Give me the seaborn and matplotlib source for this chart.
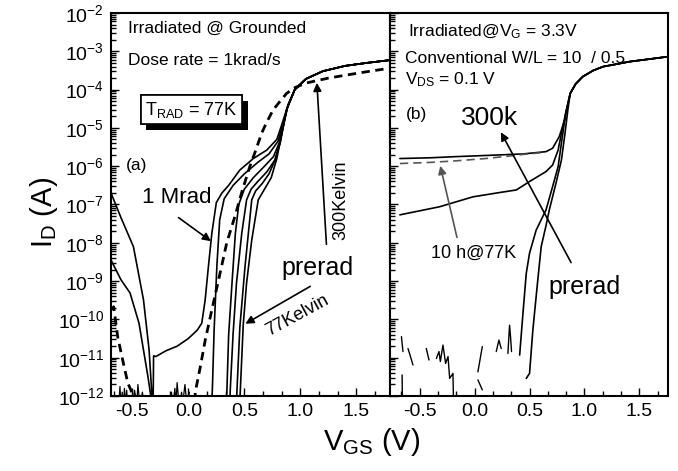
import numpy as np
import pandas as pd
import matplotlib
matplotlib.use("Agg")
import matplotlib.pyplot as plt
import matplotlib.patheffects as pe
from matplotlib.ticker import LogLocator, MultipleLocator, NullFormatter
import seaborn as sns

sns.set_theme(style="ticks")
plt.rcParams['font.family'] = ['Liberation Sans', 'DejaVu Sans']
plt.rcParams['mathtext.fontset'] = 'custom'
plt.rcParams['mathtext.rm'] = 'Liberation Sans'
plt.rcParams['mathtext.it'] = 'Liberation Sans:italic'
for key in ['text.color', 'axes.labelcolor', 'xtick.color', 'ytick.color', 'axes.edgecolor']:
    plt.rcParams[key] = 'black'

nan = np.nan

# ---- panel (a): irradiated grounded, measured at 77K (log10 of I_D in A) ----
a_top_v = [0.95, 1.05, 1.2, 1.4, 1.6, 1.8]
a_top_log = [-4.0, -3.72, -3.52, -3.38, -3.3, -3.23]

# 1 Mrad curve incl. its off-state leakage
a_1mrad_v = [-0.69, -0.6, -0.49, -0.40, -0.35, -0.32, -0.315, -0.31, -0.29, -0.2, -0.1, 0.0, 0.08, 0.12,
             0.15, 0.18, 0.21, 0.25, 0.30, 0.36, 0.46, 0.58, 0.70, 0.79, 0.83, 0.88] + a_top_v
a_1mrad_log = [-6.70, -7.35, -8.10, -9.49, -10.8, -12.2, -12.5, -10.95, -10.97, -10.82, -10.7, -10.5, -10.28, -10.1,
               -9.5, -8.6, -7.75, -6.95, -6.7, -6.5, -6.1, -5.8, -5.58, -5.3, -4.95, -4.5] + a_top_log

a_leak_v = [-0.69, -0.60, -0.52, -0.44, -0.40, -0.36, -0.33, -0.325]
a_leak_log = [-8.45, -8.97, -9.31, -10.1, -10.8, -11.5, -12.1, -12.5]

a_d2_v = [0.205, 0.215, 0.23, 0.255, 0.28, 0.32, 0.40, 0.50, 0.62, 0.72, 0.80, 0.84, 0.88] + a_top_v
a_d2_log = [-12.5, -11.8, -10.3, -8.6, -7.4, -6.85, -6.5, -6.2, -5.9, -5.68, -5.35, -4.95, -4.5] + a_top_log

a_d3_v = [0.335, 0.345, 0.36, 0.39, 0.42, 0.45, 0.50, 0.58, 0.68, 0.76, 0.81, 0.85, 0.88] + a_top_v
a_d3_log = [-12.5, -11.8, -10.4, -9.05, -7.75, -7.0, -6.6, -6.3, -6.0, -5.75, -5.4, -4.9, -4.5] + a_top_log

a_d4_v = [0.365, 0.375, 0.40, 0.43, 0.477, 0.52, 0.56, 0.62, 0.70, 0.77, 0.82, 0.855, 0.88] + a_top_v
a_d4_log = [-12.5, -11.8, -10.36, -9.05, -7.75, -6.88, -6.6, -6.4, -6.15, -5.85, -5.4, -4.85, -4.5] + a_top_log

a_d5_v = [0.425, 0.435, 0.46, 0.506, 0.566, 0.60, 0.66, 0.72, 0.78, 0.82, 0.86, 0.89] + a_top_v
a_d5_log = [-12.5, -11.8, -10.2, -8.62, -6.88, -6.65, -6.45, -6.2, -5.8, -5.35, -4.8, -4.4] + a_top_log

a_pre77_v = [0.455, 0.465, 0.49, 0.52, 0.566, 0.624, 0.68, 0.74, 0.79, 0.83, 0.86, 0.89] + a_top_v
a_pre77_log = [-12.5, -11.8, -10.15, -9.05, -7.93, -6.88, -6.6, -6.3, -5.8, -5.2, -4.75, -4.4] + a_top_log

# preirradiation at 300K (dashed)
a_pre300_v = [-0.69, -0.666, -0.63, -0.58, -0.54, -0.49, -0.48, nan,
              0.055, 0.062, 0.107, 0.151, 0.21, 0.27, 0.343, 0.417, 0.48, 0.55, 0.60, 0.654, 0.70,
              0.757, 0.82, 0.877, 0.95, 1.05, 1.11, 1.25, 1.41, 1.6, 1.8]
a_pre300_log = [-9.75, -9.67, -10.46, -11.14, -11.66, -12.0, -12.5, nan,
                -12.5, -11.9, -11.24, -10.54, -9.75, -8.97, -8.0, -7.3, -6.65, -6.0, -5.6, -5.14, -4.85,
                -4.53, -4.3, -4.1, -3.95, -3.83, -3.79, -3.7, -3.62, -3.53, -3.44]

a_floor_v = [-0.62, -0.61, -0.60, -0.59, -0.58, -0.57, -0.56, -0.55, -0.54, -0.52, -0.50, -0.48, -0.46,
             -0.45, -0.43, -0.41, -0.39, -0.37, nan, -0.16, -0.15, -0.14, -0.12, -0.11, -0.10, -0.08,
             -0.06, -0.05, -0.03, -0.01, 0.01]
a_floor_log = [-12.2, -11.75, -12.3, -11.9, -12.3, -11.8, -12.2, -11.85, -12.3, -12.0, -12.3, -11.85, -12.2,
               -11.7, -12.3, -11.9, -12.3, -12.1, nan, -12.3, -11.9, -12.3, -11.8, -12.2, -11.65, -12.3,
               -11.9, -12.2, -11.7, -12.3, -11.9]

# ---- panel (b): irradiated at V_G = 3.3V ----
b_top_v = [0.87, 0.92, 0.985, 1.08, 1.17, 1.3, 1.41, 1.6, 1.76]
b_top_log = [-4.1, -3.85, -3.66, -3.5, -3.40, -3.33, -3.27, -3.2, -3.14]

b_300k_v = [-0.68, -0.4, -0.17, 0.1, 0.44, 0.65, 0.71, 0.77, 0.82] + b_top_v
b_300k_log = [-5.80, -5.78, -5.75, -5.72, -5.68, -5.62, -5.53, -5.23, -4.79] + b_top_log

b_10h_v = [-0.68, -0.4, -0.17, 0.1, 0.3, 0.45, 0.6]
b_10h_log = [-5.93, -5.9, -5.86, -5.8, -5.74, -5.69, -5.65]

b_low_v = [-0.68, -0.32, -0.015, 0.2, 0.38, 0.5, 0.65, 0.71, 0.76, 0.79, 0.83] + b_top_v
b_low_log = [-7.27, -7.06, -6.80, -6.70, -6.62, -6.40, -6.14, -5.97, -5.58, -5.14, -4.6] + b_top_log

b_pre1_v = [0.41, 0.44, 0.47, 0.50, 0.56, 0.65, 0.71, 0.76, 0.79, 0.83] + b_top_v
b_pre1_log = [-10.93, -9.84, -8.80, -8.27, -7.67, -7.14, -6.53, -6.01, -5.4, -4.6] + b_top_log

b_pre2_v = [0.47, 0.50, 0.53, 0.575, 0.606, 0.65, 0.68, 0.74, 0.79, 0.82, 0.85] + b_top_v
b_pre2_log = [-11.54, -11.41, -10.28, -8.97, -8.10, -7.55, -7.14, -6.45, -5.84, -5.2, -4.5] + b_top_log

b_noise_v = [-0.666, -0.652, nan, -0.606, -0.561, nan, -0.44, -0.415, nan,
             -0.348, -0.324, -0.312, -0.288, -0.264, -0.242, -0.227, -0.197, -0.19, nan,
             0.03, 0.07, nan, 0.03, 0.07, nan, 0.197, 0.221, 0.242, nan, 0.303, 0.318, 0.327, 0.336, nan,
             -0.66, -0.655]
b_noise_log = [-10.45, -10.84, nan, -10.76, -11.19, nan, -10.76, -11.06, nan,
               -11.02, -10.84, -11.10, -10.67, -11.15, -10.97, -11.54, -11.41, -12.5, nan,
               -11.37, -10.71, nan, -11.58, -11.84, nan, -10.84, -10.54, -10.76, nan, -10.89, -10.15, -10.45, -10.84, nan,
               -11.45, -12.5]


def draw(ax, v, logi, **kw):
    df = pd.DataFrame({"V": v, "I": 10.0 ** np.asarray(logi, dtype=float)})
    df["seg"] = df["I"].isna().cumsum()
    df = df.dropna()
    sns.lineplot(data=df, x="V", y="I", units="seg", estimator=None, sort=False, ax=ax, **kw)


fig = plt.figure(figsize=(6.78, 4.71), dpi=100)
axa = fig.add_axes([111 / 678, 75 / 471, 279 / 678, 383 / 471])
axb = fig.add_axes([390 / 678, 75 / 471, 278 / 678, 383 / 471])

solid = dict(color="black", linewidth=1.2)
draw(axa, a_floor_v, a_floor_log, color="black", linewidth=0.9)
draw(axa, a_leak_v, a_leak_log, **solid)
for v, lg in [(a_1mrad_v, a_1mrad_log), (a_d2_v, a_d2_log), (a_d3_v, a_d3_log),
              (a_d4_v, a_d4_log), (a_d5_v, a_d5_log), (a_pre77_v, a_pre77_log)]:
    draw(axa, v, lg, **solid)
draw(axa, a_pre300_v, a_pre300_log, color="black", linewidth=2.0, linestyle=(0, (3, 2)))

draw(axb, b_noise_v, b_noise_log, color="black", linewidth=1.0)
for v, lg in [(b_300k_v, b_300k_log), (b_low_v, b_low_log), (b_pre1_v, b_pre1_log), (b_pre2_v, b_pre2_log)]:
    draw(axb, v, lg, **solid)
draw(axb, b_10h_v, b_10h_log, color="#555555", linewidth=1.2, linestyle=(0, (5, 3)))

for ax, xl in [(axa, (-0.69, 1.80)), (axb, (-0.77, 1.76))]:
    ax.set_yscale("log")
    ax.set_ylim(1e-12, 1e-2)
    ax.set_xlim(*xl)
    ax.set_xlabel("")
    ax.set_ylabel("")
    ax.xaxis.set_major_locator(MultipleLocator(0.5))
    ax.xaxis.set_minor_locator(MultipleLocator(0.5 / 3))
    ax.yaxis.set_major_locator(LogLocator(base=10, numticks=20))
    ax.yaxis.set_minor_locator(LogLocator(base=10, subs=np.arange(2, 10), numticks=20))
    ax.yaxis.set_minor_formatter(NullFormatter())
    ax.tick_params(which="both", direction="in", width=1.0, labelsize=14, color="black",
                   labelcolor="black", pad=5)
    ax.tick_params(which="major", length=6)
    ax.tick_params(which="minor", length=3.5)
    ax.tick_params(axis="both", which="both", top=False, right=False)
    for s in ax.spines.values():
        s.set_linewidth(1.5)
        s.set_color("black")
    ax.set_facecolor("white")
    ax.set_xticks([-0.5, 0.0, 0.5, 1.0, 1.5])
    ax.set_xticklabels(["-0.5", "0.0", "0.5", "1.0", "1.5"])

axb.tick_params(axis="y", which="both", labelleft=False)

txt = dict(color="black", fontsize=12.5)
# panel (a) annotations
axa.text(-0.542, 10 ** -2.39, "Irradiated @ Grounded", ha="left", va="center", **txt)
axa.text(-0.542, 10 ** -3.23, "Dose rate = 1krad/s", ha="left", va="center", **txt)
t = axa.text(0.027, 10 ** -4.53, r"T$_{\mathrm{RAD}}$ = 77K", ha="center", va="center", fontsize=13,
             color="black", bbox=dict(boxstyle="square,pad=0.25", fc="white", ec="black", lw=1.2))
t.get_bbox_patch().set_path_effects([pe.withSimplePatchShadow(offset=(4, -4), shadow_rgbFace="black", alpha=1.0),
                                     pe.Normal()])
axa.text(-0.56, 10 ** -5.97, "(a)", ha="left", va="center", **txt)
axa.text(-0.41, 10 ** -6.83, "1 Mrad", ha="left", va="center", fontsize=16, color="black")
axa.annotate("", xy=(0.222, 1e-8), xytext=(-0.107, 10 ** -7.3),
             arrowprops=dict(arrowstyle="-|>", color="black", lw=1.2, mutation_scale=12))
axa.text(1.155, 10 ** -8.66, "prerad", ha="center", va="center", fontsize=18, color="black")
axa.annotate("", xy=(0.488, 10 ** -10.15), xytext=(1.11, 10 ** -9.1),
             arrowprops=dict(arrowstyle="-|>", color="black", lw=1.2, mutation_scale=12))
axa.text(0.977, 10 ** -9.89, "77Kelvin", ha="center", va="center", rotation=28.5, fontsize=13, color="black")
axa.text(1.365, 10 ** -6.88, "300Kelvin", ha="center", va="center", rotation=90, fontsize=13, color="black")
axa.annotate("", xy=(1.146, 10 ** -3.75), xytext=(1.234, 10 ** -8.11),
             arrowprops=dict(arrowstyle="-|>", color="black", lw=1.2, mutation_scale=12))

# panel (b) annotations
axb.text(-0.61, 10 ** -2.49, r"Irradiated@V$_{\mathrm{G}}$ = 3.3V", ha="left", va="center", **txt)
axb.text(-0.636, 10 ** -3.18, "Conventional W/L = 10  / 0.5", ha="left", va="center", **txt)
axb.text(-0.636, 10 ** -3.75, r"V$_{\mathrm{DS}}$ = 0.1 V", ha="left", va="center", **txt)
axb.text(-0.625, 10 ** -4.66, "(b)", ha="left", va="center", **txt)
axb.text(0.136, 10 ** -4.74, "300k", ha="center", va="center", fontsize=19, color="black")
axb.annotate("", xy=(0.227, 10 ** -5.05), xytext=(0.89, 10 ** -8.58),
             arrowprops=dict(arrowstyle="-|>", color="black", lw=1.2, mutation_scale=12))
axb.text(-0.01, 10 ** -8.27, "10 h@77K", ha="center", va="center", fontsize=13, color="black")
axb.annotate("", xy=(-0.318, 10 ** -5.92), xytext=(-0.155, 10 ** -7.93),
             arrowprops=dict(arrowstyle="-|>", color="#555555", lw=1.2, mutation_scale=12))
axb.text(1.0, 10 ** -9.15, "prerad", ha="center", va="center", fontsize=18, color="black")

fig.text(44 / 678, 1 - 212 / 471, r"I$_{\mathrm{D}}$ (A)", rotation=90, ha="center", va="center",
         fontsize=21, color="black")
fig.text(372 / 678, 1 - 442 / 471, r"V$_{\mathrm{GS}}$ (V)", ha="center", va="center",
         fontsize=21, color="black")

fig.savefig("out.png", dpi=100, facecolor="white")
